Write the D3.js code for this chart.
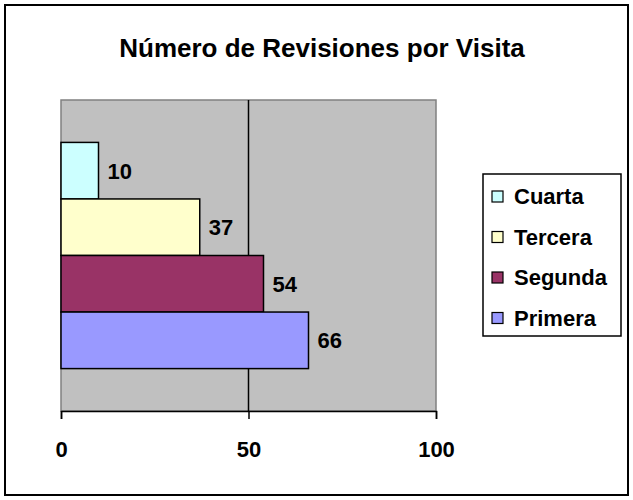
<!DOCTYPE html>
<html>
<head>
<meta charset="utf-8">
<script src="https://cdn.jsdelivr.net/npm/d3@7"></script>
<style>
	body { margin: 0; background: #fff; }
	text { font-family: "Liberation Sans", Arial, sans-serif; font-weight: bold; fill: #000; }
</style>
</head>
<body>
<div id="chart"></div>
<script>
var title = "Número de Revisiones por Visita";
var series = ["Cuarta", "Tercera", "Segunda", "Primera"];
var values = [10, 37, 54, 66];
var colors = ["#ccffff", "#ffffcc", "#993366", "#9999ff"];
var xTicks = [0, 50, 100];

var W = 633, H = 500;
var plot = { left: 61, right: 436, top: 100, bottom: 411 };

var svg = d3.select("#chart").append("svg")
	.attr("width", W)
	.attr("height", H);

// chart frame
svg.append("rect")
	.attr("x", 5).attr("y", 5)
	.attr("width", 623).attr("height", 490)
	.attr("fill", "#fff")
	.attr("stroke", "#000")
	.attr("stroke-width", 2);

var addText = function(sel, x, y, anchor, size) {
	return sel.append("text")
		.attr("x", x)
		.attr("y", y)
		.attr("text-anchor", anchor)
		.style("font-size", size + "px");
};

addText(svg, 322, 57, "middle", 26).text(title);

var x = d3.scaleLinear().domain([0, 100]).range([plot.left, plot.right]);
var y = d3.scaleBand().domain(series).range([plot.top, plot.bottom])
	.paddingInner(0).paddingOuter(0.75);

// plot area
svg.append("rect")
	.attr("x", plot.left).attr("y", plot.top)
	.attr("width", plot.right - plot.left).attr("height", plot.bottom - plot.top)
	.attr("fill", "#c0c0c0")
	.attr("stroke", "#808080")
	.attr("stroke-width", 1.5);

// gridlines
svg.selectAll(".grid")
	.data(xTicks.filter(function(d) { return d > 0 && d < 100; }))
	.enter().append("line")
	.attr("class", "grid")
	.attr("x1", function(d) { return x(d); })
	.attr("x2", function(d) { return x(d); })
	.attr("y1", plot.top)
	.attr("y2", plot.bottom)
	.attr("stroke", "#000")
	.attr("stroke-width", 1.5);

// bars
svg.selectAll(".bar")
	.data(series)
	.enter().append("rect")
	.attr("class", "bar")
	.attr("x", x(0))
	.attr("y", function(d) { return y(d); })
	.attr("width", function(d, i) { return x(values[i]) - x(0); })
	.attr("height", y.bandwidth())
	.attr("fill", function(d, i) { return colors[i]; })
	.attr("stroke", "#000")
	.attr("stroke-width", 1.5);

// data labels
series.forEach(function(s, i) {
	addText(svg, x(values[i]) + 9, y(s) + y.bandwidth() / 2 + 8, "start", 22).text(values[i]);
});

// x axis
var axis = svg.append("g")
	.attr("transform", "translate(0," + plot.bottom + ")")
	.call(d3.axisBottom(x).tickValues(xTicks).tickSize(8).tickPadding(23));
axis.select(".domain").attr("stroke", "#000").attr("stroke-width", 1.5);
axis.selectAll(".tick line").attr("stroke", "#000").attr("stroke-width", 1.5);
axis.selectAll(".tick text").remove();
axis.selectAll(".tick").each(function(d) {
	addText(d3.select(this), 0, 45.5, "middle", 22).text(d);
});

// legend
var legend = svg.append("g");
legend.append("rect")
	.attr("x", 483).attr("y", 174)
	.attr("width", 138).attr("height", 162)
	.attr("fill", "#fff")
	.attr("stroke", "#000")
	.attr("stroke-width", 1.5);

var items = legend.selectAll(".item")
	.data(series)
	.enter().append("g")
	.attr("class", "item")
	.attr("transform", function(d, i) { return "translate(492," + (196 + i * 40.5) + ")"; });

items.append("rect")
	.attr("x", 0).attr("y", -5)
	.attr("width", 11).attr("height", 11)
	.attr("fill", function(d, i) { return colors[i]; })
	.attr("stroke", "#000")
	.attr("stroke-width", 1.2);

items.each(function(d) {
	addText(d3.select(this), 22, 8, "start", 22).text(d);
});
</script>
</body>
</html>
